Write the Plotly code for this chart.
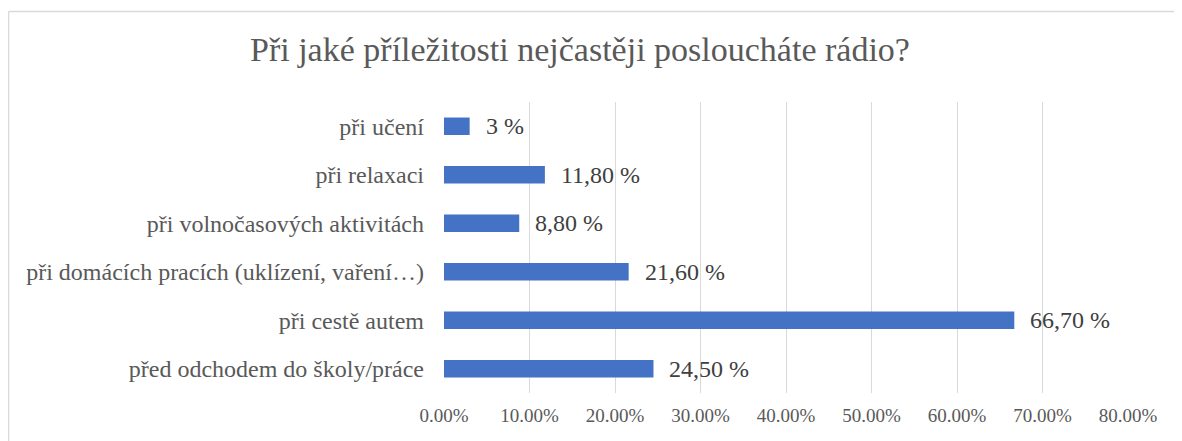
import plotly.graph_objects as go

categories = [
    "před odchodem do školy/práce",
    "při cestě autem",
    "při domácích pracích (uklízení, vaření…)",
    "při volnočasových aktivitách",
    "při relaxaci",
    "při učení",
]
values_pct = [24.5, 66.7, 21.6, 8.8, 11.8, 3.0]
value_labels = ["24,50 %", "66,70 %", "21,60 %", "8,80 %", "11,80 %", "3 %"]
x_ticks_pct = [0, 10, 20, 30, 40, 50, 60, 70, 80]

title_text = "Při jaké příležitosti nejčastěji posloucháte rádio?"

FONT = "Liberation Serif, Times New Roman, serif"
GREY = "#595959"

# page has an 8px body margin; plot area target: x 444..1128, y 102..393
L, R, T, B = 436, 62, 94, 56
PW, PH = 1182 - L - R, 441 - T - B

def px(xpage):
    return (xpage - 8 - L) / PW

def py(ypage):
    return (441 - B - (ypage - 8)) / PH

values = [v / 100 for v in values_pct]

fig = go.Figure()
fig.add_trace(go.Bar(
    x=values,
    y=categories,
    orientation="h",
    marker=dict(color="#4472C4", line=dict(width=0)),
    hoverinfo="skip",
))

annotations = []
for c, v, lab in zip(categories, values, value_labels):
    annotations.append(dict(
        x=v, y=c, xref="x", yref="y", text=lab, showarrow=False,
        xanchor="left", yanchor="middle", xshift=14, yshift=0,
        font=dict(family=FONT, size=24, color="#404040"),
    ))

annotations.append(dict(
    x=px(580), y=py(50), xref="paper", yref="paper",
    text=title_text, showarrow=False, xanchor="center", yanchor="middle",
    font=dict(family=FONT, size=34, color=GREY),
))

fig.update_layout(
    width=1182, height=441,
    margin=dict(l=L, r=R, t=T, b=B, pad=0),
    paper_bgcolor="white", plot_bgcolor="white",
    showlegend=False,
    bargap=0.64,
    annotations=annotations,
    shapes=[
        dict(type="line", xref="paper", yref="paper",
             x0=px(8.5), x1=px(8.5),
             y0=-1, y1=py(11.5),
             line=dict(color="#D9D9D9", width=1.5), layer="below"),
        dict(type="line", xref="paper", yref="paper",
             x0=px(8.5), x1=2,
             y0=py(11.5), y1=py(11.5),
             line=dict(color="#D9D9D9", width=1.5), layer="below"),
    ],
    xaxis=dict(
        range=[0, 0.8],
        tickvals=[t / 100 for t in x_ticks_pct],
        tickformat=".2%",
        showgrid=True, gridcolor="#D9D9D9", gridwidth=1,
        zeroline=False, showline=False, ticks="",
        ticklabelstandoff=9,
        tickfont=dict(family=FONT, size=19, color=GREY),
        fixedrange=True,
    ),
    yaxis=dict(
        categoryorder="array", categoryarray=categories,
        showgrid=False, zeroline=False, showline=False, ticks="",
        ticklabelstandoff=19,
        tickfont=dict(family=FONT, size=24, color=GREY),
        fixedrange=True,
    ),
)

fig.write_html("out.html")
